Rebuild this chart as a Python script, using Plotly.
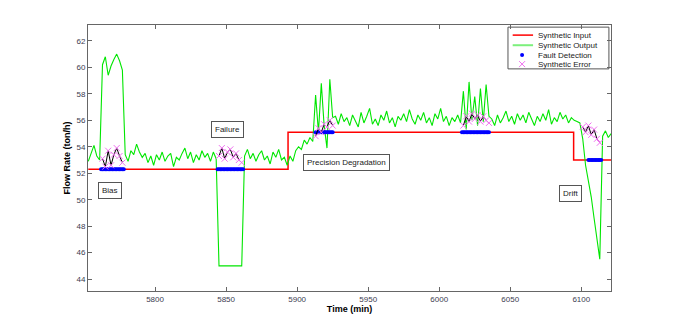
import numpy as np
import plotly.graph_objects as go

# synthetic input (red step line): breakpoints and levels
input_t = [5753, 5893.6, 6094.6, 6121]
input_level = [52.3, 55.1, 53.0, 53.0]

# synthetic output (green), one value every 2 min from 5753 to 6121
output_t = list(range(5753, 6122, 2))
out_start = [52.9, 53.5, 54.1, 53.3, 53.0]
out_bias = [60.2, 60.8, 59.4, 60.1, 60.6, 61.0, 60.5, 59.8]
out_normal1 = [53.4, 52.9, 53.7, 53.4, 54.2, 53.6, 53.2, 53.5, 52.8, 53.3, 52.6,
               53.4, 53.0, 53.6, 52.9, 53.3, 53.5, 52.5, 53.2, 53.0, 53.5, 53.9,
               53.1, 53.6, 52.8, 53.4, 53.0, 53.7, 53.2, 53.5, 52.9, 53.6, 53.1]
out_failure = [45.0, 45.0, 45.0, 45.0, 45.0, 45.0, 45.0, 45.0, 45.0]
out_normal2 = [53.3, 53.8, 53.1, 53.5, 52.9, 53.4, 53.7, 53.0, 53.3, 52.7, 53.6,
               53.2, 53.8, 53.0, 53.2, 52.6]
out_ramp = [53.3, 52.9, 53.7, 54.0, 53.8, 54.5, 54.2, 54.7, 54.4]
out_precision1 = [57.9, 55.1, 58.8, 55.6, 53.9, 59.1, 56.2]
out_normal3 = [56.3, 55.7, 56.5, 55.9, 56.2, 55.6, 56.4, 56.0, 55.5, 56.6, 55.8,
               56.3, 56.9, 55.7, 56.1, 55.6, 56.4, 56.0, 56.7, 55.8, 56.2, 55.5,
               56.3, 56.0, 56.5, 55.9, 56.8, 56.1, 55.7, 56.4, 56.0, 56.6, 55.8,
               56.2, 55.6, 56.5, 56.1, 56.9, 55.9, 56.3, 55.6, 56.2, 55.9, 56.4,
               55.8]
out_precision2 = [58.2, 55.3, 58.9, 56.0, 57.8, 55.6, 58.4, 55.9, 58.7, 56.3]
out_normal4 = [56.1, 55.6, 56.4, 55.8, 56.2, 56.7, 55.9, 56.3, 55.7, 56.5, 56.0,
               56.4, 55.8, 56.6, 56.1, 55.6, 56.3, 55.9, 56.5, 56.0, 56.8, 55.7,
               56.2, 55.9, 56.6, 56.1, 56.4, 55.8, 56.2, 56.0, 55.9, 55.8]
out_drift = [54.6, 52.6, 51.4, 50.2, 48.6, 47.0, 45.5]
out_end = [54.8, 55.2, 54.7, 55.0]

output_vals = (out_start + out_bias + out_normal1 + out_failure + out_normal2
               + out_ramp + out_precision1 + out_normal3 + out_precision2
               + out_normal4 + out_drift + out_end)

# synthetic error (black line with pink crosses) inside each fault window
error_t = [
    [5763, 5765, 5767, 5769, 5771, 5773, 5775, 5777],
    [5845, 5847, 5849, 5851, 5853, 5855, 5857, 5859, 5861],
    [5913, 5915, 5917, 5919, 5921, 5923, 5925],
    [6017, 6019, 6021, 6023, 6025, 6027, 6029, 6031, 6033, 6035],
    [6101, 6103, 6105, 6107, 6109, 6111, 6113],
]
error_vals = [
    [53.1, 52.5, 53.7, 52.6, 53.4, 53.9, 53.3, 52.8],
    [53.3, 53.9, 53.1, 53.6, 53.8, 53.2, 53.5, 53.0, 52.8],
    [54.8, 55.4, 55.1, 55.7, 55.5, 56.0, 55.6],
    [55.6, 56.3, 55.9, 56.5, 56.1, 56.4, 55.9, 56.3, 56.0, 55.8],
    [55.5, 55.1, 55.6, 54.9, 55.3, 54.6, 54.3],
]

# fault detection windows (start, end) in min
detect_start = [5762, 5844, 5913, 6016, 6105]
detect_end = [5778, 5862, 5925, 6035, 6114]

annot_text = ['Bias', 'Failure', 'Precision Degradation', 'Drift']
annot_t = [5768.4, 5850.8, 5935, 6092.4]
annot_y = [50.7, 55.3, 52.8, 50.45]

legend_names = ['Synthetic Input', 'Synthetic Output', 'Fault Detection', 'Synthetic Error']

RED = '#ff0000'
GREEN = '#00e600'
BLUE = '#0000ff'
PINK = '#f070f0'
font = 'Arial, Liberation Sans, sans-serif'


def input_at(t):
    idx = np.searchsorted(input_t, t, side='right') - 1
    return np.array(input_level)[np.clip(idx, 0, len(input_level) - 1)]


fig = go.Figure()

fig.add_trace(go.Scatter(
    x=input_t, y=input_level, name=legend_names[0], mode='lines',
    line={'color': RED, 'width': 1.5, 'shape': 'hv'}))
fig.add_trace(go.Scatter(
    x=output_t, y=output_vals, name=legend_names[1], mode='lines',
    line={'color': GREEN, 'width': 1.1}))

det_t = np.concatenate([np.arange(s, e + 1) for s, e in zip(detect_start, detect_end)])
fig.add_trace(go.Scatter(
    x=det_t, y=input_at(det_t), name=legend_names[2], mode='markers',
    marker={'color': BLUE, 'size': 4}))

err_x, err_y = [], []
for tt, vv in zip(error_t, error_vals):
    err_x += tt + [None]
    err_y += vv + [None]
fig.add_trace(go.Scatter(
    x=err_x, y=err_y, mode='lines',
    line={'color': 'black', 'width': 1}))
fig.add_trace(go.Scatter(
    x=err_x, y=err_y, name=legend_names[3], mode='markers',
    marker={'color': PINK, 'symbol': 'x-thin', 'size': 6,
            'line': {'color': PINK, 'width': 1}}))

for txt, tx, ty in zip(annot_text, annot_t, annot_y):
    fig.add_annotation(
        x=tx, y=ty, text=txt, showarrow=False,
        font={'size': 8, 'color': '#222', 'family': font},
        bordercolor='#555', borderwidth=1, borderpad=3, bgcolor='white')

# hand-made legend box (plotly's own legend rows are too tall at this size)
# overlay axes x2/y2 span 0..1 over the plot area
fig.add_shape(type='rect', xref='x2', yref='y2', x0=0.803, x1=0.996, y0=0.835, y1=0.992,
              line={'color': '#555', 'width': 1}, fillcolor='white', layer='below')
row_y = [0.962, 0.924, 0.887, 0.853]
fig.add_trace(go.Scatter(x=[0.812, 0.851], y=[row_y[0]] * 2, mode='lines', xaxis='x2',
                         yaxis='y2', line={'color': RED, 'width': 1.5}))
fig.add_trace(go.Scatter(x=[0.812, 0.851], y=[row_y[1]] * 2, mode='lines', xaxis='x2',
                         yaxis='y2', line={'color': '#7cf07c', 'width': 2}))
fig.add_trace(go.Scatter(x=[0.830], y=[row_y[2]], mode='markers', xaxis='x2', yaxis='y2',
                         marker={'color': BLUE, 'size': 4}))
fig.add_trace(go.Scatter(x=[0.830], y=[row_y[3]], mode='markers', xaxis='x2', yaxis='y2',
                         marker={'color': PINK, 'symbol': 'x-thin', 'size': 6,
                                 'line': {'color': PINK, 'width': 1}}))
for name, ry in zip(legend_names, row_y):
    fig.add_annotation(x=0.856, y=ry, xref='x2', yref='y2', text=name, showarrow=False,
                       xanchor='left', yanchor='middle',
                       font={'size': 8, 'color': '#222', 'family': font})

axis_style = {
    'showline': True, 'linecolor': '#666', 'linewidth': 1, 'mirror': 'ticks',
    'ticks': 'inside', 'ticklen': 4, 'tickcolor': '#666', 'showgrid': False,
    'zeroline': False, 'automargin': False,
    'tickfont': {'size': 8, 'color': '#3c3c50', 'family': font},
}

# the page body adds an 8 px offset at top/left, so the figure is 8 px smaller
fig.update_layout(
    width=668, height=319,
    margin={'l': 80, 'r': 65, 't': 17, 'b': 36},
    plot_bgcolor='white', paper_bgcolor='white',
    font={'family': font},
    showlegend=False,
    xaxis={**axis_style, 'range': [5752.8, 6120.9], 'tickvals': list(range(5800, 6101, 50)),
           'title': {'text': '<b>Time (min)</b>', 'font': {'size': 9, 'color': 'black'},
                     'standoff': 0}},
    yaxis={**axis_style, 'range': [43.1, 63.2], 'tickvals': list(range(44, 63, 2)),
           'title': {'text': '<b>Flow Rate (ton/h)</b>', 'font': {'size': 9, 'color': 'black'},
                     'standoff': 4}},
    xaxis2={'overlaying': 'x', 'range': [0, 1], 'visible': False, 'fixedrange': True},
    yaxis2={'overlaying': 'y', 'range': [0, 1], 'visible': False, 'fixedrange': True},
)

fig.write_html("out.html")
